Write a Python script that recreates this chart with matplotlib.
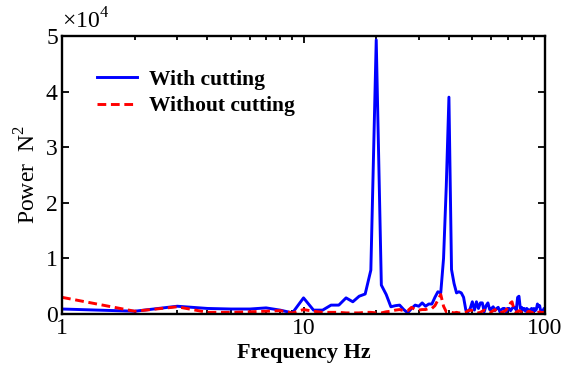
import numpy as np
import matplotlib
matplotlib.use("Agg")
import matplotlib.pyplot as plt
from matplotlib.ticker import LogLocator, NullFormatter, FixedLocator

# Spectrum sampled at 1 Hz steps, power in units of 1e4 N^2
freq = np.arange(1, 101)

power_with = [
    0.09, 0.05, 0.14, 0.10, 0.09, 0.09, 0.11, 0.07, 0.02, 0.29,   # 1-10
    0.07, 0.07, 0.16, 0.16, 0.29, 0.22, 0.32, 0.36, 0.79, 4.93,   # 11-20
    0.52, 0.35, 0.13, 0.15, 0.16, 0.08, 0.02, 0.10, 0.16, 0.14,   # 21-30
    0.20, 0.14, 0.18, 0.18, 0.30, 0.40, 0.38, 1.00, 2.30, 3.90,   # 31-40
    0.80, 0.55, 0.38, 0.40, 0.38, 0.30, 0.07, 0.04, 0.10, 0.22,   # 41-50
    0.07, 0.22, 0.10, 0.20, 0.20, 0.04, 0.15, 0.20, 0.08, 0.10,   # 51-60
    0.13, 0.06, 0.10, 0.12, 0.04, 0.08, 0.10, 0.10, 0.04, 0.10,   # 61-70
    0.10, 0.06, 0.10, 0.12, 0.12, 0.07, 0.30, 0.32, 0.10, 0.12,   # 71-80
    0.07, 0.10, 0.05, 0.10, 0.08, 0.04, 0.08, 0.10, 0.04, 0.10,   # 81-90
    0.06, 0.08, 0.18, 0.14, 0.15, 0.05, 0.05, 0.05, 0.10, 0.06,   # 91-100
]

power_without = [
    0.30, 0.05, 0.13, 0.03, 0.03, 0.04, 0.05, 0.06, 0.02, 0.08,   # 1-10
    0.05, 0.03, 0.03, 0.03, 0.02, 0.02, 0.02, 0.03, 0.03, 0.02,   # 11-20
    0.02, 0.04, 0.05, 0.07, 0.08, 0.06, 0.06, 0.12, 0.08, 0.07,   # 21-30
    0.08, 0.08, 0.10, 0.10, 0.15, 0.25, 0.35, 0.14, 0.04, 0.04,   # 31-40
    0.03, 0.02, 0.03, 0.02, 0.02, 0.02, 0.03, 0.06, 0.07, 0.06,   # 41-50
    0.04, 0.03, 0.02, 0.03, 0.05, 0.07, 0.05, 0.03, 0.02, 0.04,   # 51-60
    0.06, 0.08, 0.05, 0.03, 0.02, 0.03, 0.04, 0.05, 0.07, 0.12,   # 61-70
    0.14, 0.20, 0.22, 0.12, 0.05, 0.03, 0.04, 0.06, 0.05, 0.03,   # 71-80
    0.02, 0.03, 0.05, 0.04, 0.03, 0.05, 0.04, 0.03, 0.02, 0.04,   # 81-90
    0.05, 0.03, 0.02, 0.03, 0.04, 0.03, 0.02, 0.03, 0.03, 0.02,   # 91-100
]

x_ticks = [1, 10, 100]
x_ticklabels = ["1", "10", "100"]
y_ticks = [0, 1, 2, 3, 4, 5]

plt.rcParams["font.family"] = ["Liberation Serif", "DejaVu Serif"]
plt.rcParams["mathtext.fontset"] = "custom"
plt.rcParams["mathtext.rm"] = "Liberation Serif"

fig = plt.figure(figsize=(5.7, 3.71), dpi=100)
ax = fig.add_axes([0.1088, 0.1536, 0.8474, 0.7494])

ax.plot(freq, power_with, color="#0000ff", lw=2.1, label="With cutting")
ax.plot(freq, power_without, color="#ff0000", lw=2.1, ls=(0, (3, 1.6)),
        label="Without cutting")

ax.set_xscale("log")
ax.set_xlim(1, 100)
ax.set_ylim(0, 5)
ax.xaxis.set_major_locator(FixedLocator(x_ticks))
ax.set_xticklabels(x_ticklabels)
ax.xaxis.set_minor_locator(LogLocator(base=10, subs=np.arange(2, 10)))
ax.xaxis.set_minor_formatter(NullFormatter())
ax.set_yticks(y_ticks)

ax.tick_params(which="both", direction="in", top=True, right=True,
               labelsize=17, width=1.3, pad=3)
ax.tick_params(which="major", length=5)
ax.tick_params(which="minor", length=3)
for sp in ax.spines.values():
    sp.set_linewidth(1.7)

ax.set_xlabel("Frequency Hz", fontsize=16, fontweight="bold", labelpad=3)
ax.set_ylabel("Power  N$^2$", fontsize=17, labelpad=4)

ax.text(0.0, 1.01, "\u00d710$^4$", transform=ax.transAxes, fontsize=17,
        ha="left", va="bottom")

ax.legend(loc="upper left", bbox_to_anchor=(0.055, 0.91), frameon=False,
          prop={"size": 15.5, "weight": "bold"}, handlelength=1.85,
          handletextpad=0.55, labelspacing=0.3, borderaxespad=0)

fig.savefig("out.png", dpi=100)
